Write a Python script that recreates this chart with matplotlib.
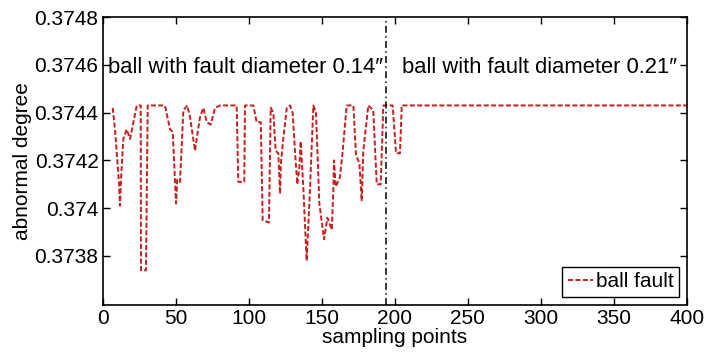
"""
ball fault abnormal degree curve
"""
import matplotlib
matplotlib.use("Agg")
import matplotlib.pyplot as plt

# ====================== 1. data ======================
sample_x = [6.8, 8.4, 11.2, 11.8, 12.5, 14.1, 16.4, 18.7, 21.0, 23.3,
            26.0, 26.2, 29.6, 30.8, 42.6, 46.1, 47.9, 50.2, 51.0, 52.9,
            55.2, 57.9, 59.8, 63.2, 64.8, 66.6, 68.9, 71.2, 73.9, 76.9,
            80.3, 91.7, 92.8, 96.9, 97.4, 103.1, 105.4, 108.2, 109.5, 113.8,
            115.0, 116.8, 118.4, 120.2, 121.4, 122.0, 123.6, 126.0, 128.2, 130.0,
            131.6, 133.2, 134.6, 135.5, 137.3, 139.6, 141.9, 144.2, 146.0, 148.3,
            151.5, 153.8, 156.8, 157.9, 158.3, 159.5, 162.4, 164.3, 167.0, 171.6,
            173.4, 175.7, 177.3, 178.4, 181.8, 185.2, 187.6, 190.3, 192.1, 198.5,
            200.8, 203.5, 204.7, 400.0]
abnormal_degree = [0.37442, 0.37433, 0.37410, 0.37401, 0.37412, 0.37429, 0.37433, 0.37429, 0.37436, 0.37443,
                   0.37443, 0.37374, 0.37374, 0.37443, 0.37443, 0.37433, 0.37432, 0.37402, 0.37412, 0.37411,
                   0.37441, 0.37443, 0.37438, 0.37424, 0.37431, 0.37438, 0.37442, 0.37436, 0.37435, 0.37442,
                   0.37443, 0.37443, 0.37411, 0.37411, 0.37443, 0.37443, 0.37436, 0.37436, 0.37395, 0.37394,
                   0.37442, 0.37440, 0.37424, 0.37423, 0.37406, 0.37419, 0.37429, 0.37442, 0.37443, 0.37440,
                   0.37424, 0.37410, 0.37417, 0.37428, 0.37409, 0.37378, 0.37408, 0.37443, 0.37440, 0.37402,
                   0.37387, 0.37396, 0.37391, 0.37408, 0.37420, 0.37409, 0.37413, 0.37424, 0.37443, 0.37443,
                   0.37422, 0.37419, 0.37403, 0.37424, 0.37443, 0.37441, 0.37410, 0.37410, 0.37443, 0.37443,
                   0.37423, 0.37423, 0.37443, 0.37443]

split_x = 194
x_ticks = [0, 50, 100, 150, 200, 250, 300, 350, 400]
y_ticks = [0.3738, 0.374, 0.3742, 0.3744, 0.3746, 0.3748]
y_tick_labels = ["0.3738", "0.374", "0.3742", "0.3744", "0.3746", "0.3748"]
label_left = "ball with fault diameter 0.14\u2033"
label_right = "ball with fault diameter 0.21\u2033"
legend_label = "ball fault"

# ====================== 2. style ======================
plt.rcParams["font.family"] = ["Liberation Sans", "DejaVu Sans"]
FS = 15

fig = plt.figure(figsize=(7.06, 3.53), dpi=100)
ax = fig.add_axes([0.1455, 0.136, 0.8276, 0.8158])

# ====================== 3. plot ======================
ax.plot(sample_x, abnormal_degree, color="#c81e1e", lw=1.4,
        linestyle=(0, (2.6, 1.2)), label=legend_label)
ax.axvline(split_x, color="black", lw=1.1, linestyle=(0, (4.5, 2.2, 1, 2.2)))

ax.text(3.5, 0.374587, label_left, fontsize=15.8, va="center", ha="left")
ax.text(205, 0.374587, label_right, fontsize=15.8, va="center", ha="left")

ax.set_xlim(0, 400)
ax.set_ylim(0.373595, 0.3748)
ax.set_xticks(x_ticks)
ax.set_yticks(y_ticks)
ax.set_yticklabels(y_tick_labels)
ax.tick_params(direction="in", length=5, width=1, top=True, right=True,
               labelsize=FS, pad=3)
for sp in ax.spines.values():
    sp.set_linewidth(1.2)

ax.set_xlabel("sampling points", fontsize=FS, labelpad=0)
ax.set_ylabel("abnormal degree", fontsize=FS, labelpad=2)

leg = ax.legend(loc="lower right", fontsize=FS, fancybox=False,
                edgecolor="black", framealpha=1, handlelength=1.2,
                handletextpad=0.15, borderpad=0.25, borderaxespad=0.4)
leg.get_frame().set_linewidth(1.0)

plt.savefig("out.png", dpi=100)
plt.close()
